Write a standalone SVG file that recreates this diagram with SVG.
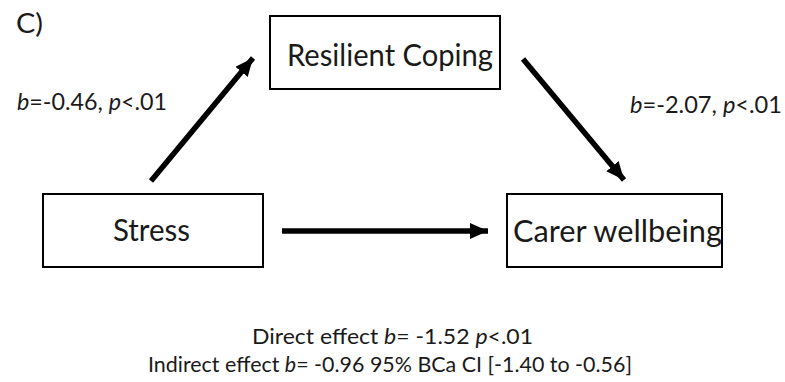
<svg xmlns="http://www.w3.org/2000/svg" width="785" height="382" viewBox="0 0 785 382">
<defs>
<marker id="ah" markerUnits="userSpaceOnUse" markerWidth="20" markerHeight="18" refX="18" refY="8" orient="auto">
<path d="M0,0 L18,8 L0,16 Z" fill="#000"/>
</marker>
<style>
.box{fill:#fff;stroke:#000;stroke-width:2}
.t{font-family:Lato,"Open Sans","Liberation Sans",sans-serif;fill:#1a1a1a}
.conn{stroke:#000;stroke-width:5.5;fill:none;marker-end:url(#ah)}
</style>
</defs>
<rect width="785" height="382" fill="#fff"/>
<text class="t" x="16" y="33" font-size="26" textLength="27" lengthAdjust="spacingAndGlyphs">C)</text>
<g id="connectors">
<line class="conn" x1="151" y1="181" x2="253" y2="58"/>
<line class="conn" x1="523" y1="59" x2="624" y2="180"/>
<line class="conn" x1="282" y1="231" x2="488" y2="231"/>
</g>
<g id="resilient">
<rect class="box" x="270" y="16" width="230" height="73"/>
<text class="t" x="287" y="66" font-size="31" textLength="206" lengthAdjust="spacingAndGlyphs">Resilient Coping</text>
</g>
<g id="stress">
<rect class="box" x="43" y="194" width="220" height="73"/>
<text class="t" x="113" y="241" font-size="30" textLength="77" lengthAdjust="spacingAndGlyphs">Stress</text>
</g>
<g id="carer">
<rect class="box" x="507" y="194" width="215" height="73"/>
<text class="t" x="513" y="242" font-size="31" textLength="209" lengthAdjust="spacingAndGlyphs">Carer wellbeing</text>
</g>
<text class="t" x="17" y="110" font-size="23" textLength="150" lengthAdjust="spacingAndGlyphs"><tspan font-style="italic">b</tspan>=-0.46, <tspan font-style="italic">p</tspan>&lt;.01</text>
<text class="t" x="630" y="113" font-size="23" textLength="152" lengthAdjust="spacingAndGlyphs"><tspan font-style="italic">b</tspan>=-2.07, <tspan font-style="italic">p</tspan>&lt;.01</text>
<text class="t" x="252" y="344" font-size="21" textLength="281" lengthAdjust="spacingAndGlyphs">Direct effect <tspan font-style="italic">b</tspan>= -1.52 <tspan font-style="italic">p</tspan>&lt;.01</text>
<text class="t" x="148" y="372" font-size="21" textLength="484" lengthAdjust="spacingAndGlyphs">Indirect effect <tspan font-style="italic">b</tspan>= -0.96 95% BCa CI [-1.40 to -0.56]</text>
</svg>
